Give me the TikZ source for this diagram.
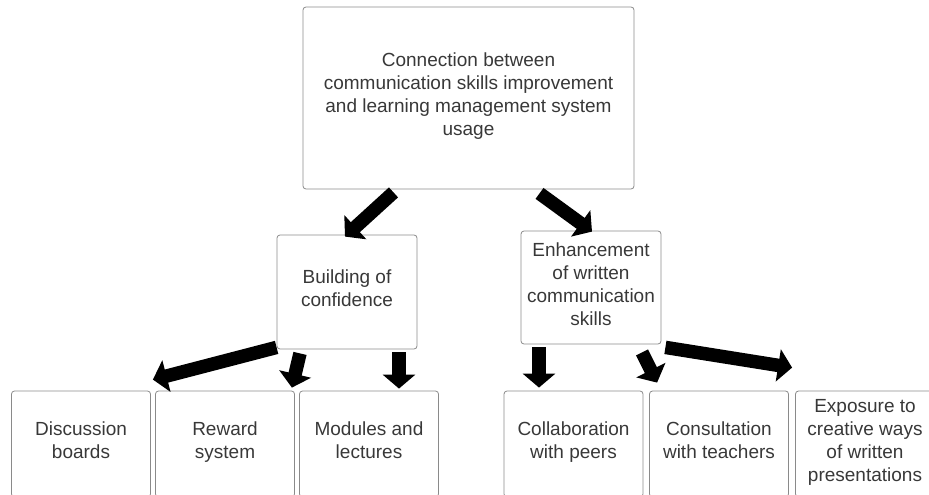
\documentclass[tikz,border=0pt]{standalone}
\usepackage{fontspec}
\setmainfont{Liberation Sans}
\usetikzlibrary{arrows.meta,calc}
\definecolor{txtgray}{HTML}{383838}
\definecolor{boxgray}{HTML}{8A8A8A}

\begin{document}
\begin{tikzpicture}[x=1pt,y=-1pt,
box/.style={%
draw=boxgray,
line width=0.8pt,
rounded corners=3pt,
align=center,
text=txtgray,
font=\fontsize{19}{23}\selectfont,
inner sep=2pt,
execute at begin node=\strut,
execute at end node=\strut,
},
leaf/.style={%
box,
minimum width=139pt,
minimum height=106pt,
},
bigarrow/.style={%
line width=13.5pt,
-{Triangle[length=14pt,width=32pt]},
},
]
\useasboundingbox (0,0) rectangle (929,495);
%% Root
\node[box,minimum width=331pt,minimum height=182pt](conn)at(468.5,98){Connection between\\communication skills improvement\\and learning management system\\usage};
%% Second level
\node[box,minimum width=140pt,minimum height=114pt](conf)at(347,292){Building of\\confidence};
\node[box,minimum width=140pt,minimum height=113pt](writ)at(591,287.5){Enhancement\\of written\\communication\\skills};
%% Leaves
\node[leaf](disc)at(81,444){Discussion\\boards};
\node[leaf](rew)at(225,444){Reward\\system};
\node[leaf](mod)at(369,444){Modules and\\lectures};
\node[leaf](coll)at(573.5,444){Collaboration\\with peers};
\node[leaf](cons)at(719,444){Consultation\\with teachers};
\node[leaf](expo)at(865,444){Exposure to\\creative ways\\of written\\presentations};
%% Arrows
\draw[bigarrow] ($(conn.south)+(-75,3)$) -- ($(conf.north)+(-2,2)$);
\draw[bigarrow] ($(conn.south)+(71,4)$) -- ($(writ.north)+(1,1)$);
\draw[bigarrow] ($(conf.south west)+(0,-2)$) -- ($(disc.north east)+(2,-11)$);
\draw[bigarrow] ($(conf.south)+(-47,4)$) -- ($(rew.north east)+(-3,-3)$);
\draw[bigarrow] ($(conf.south)+(52,3)$) -- ($(mod.north)+(30,-2)$);
\draw[bigarrow] ($(writ.south)+(-52,3)$) -- ($(coll.north)+(-34.5,-3)$);
\draw[bigarrow] ($(writ.south)+(51,8)$) -- ($(cons.north west)+(8,-8)$);
\draw[bigarrow] ($(writ.south east)+(4,3)$) -- ($(expo.north west)+(-3,-23)$);
\end{tikzpicture}
\end{document}
